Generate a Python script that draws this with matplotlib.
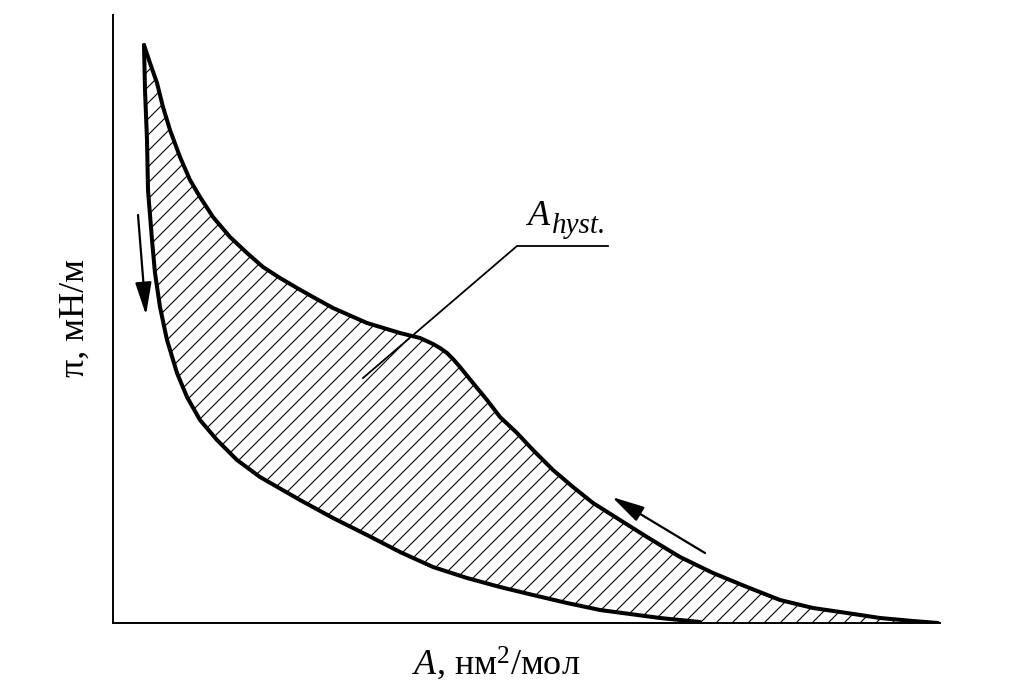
import matplotlib
matplotlib.use("Agg")
import matplotlib.pyplot as plt
from matplotlib.patches import Polygon
import numpy as np

plt.rcParams['font.family'] = ['Liberation Serif', 'DejaVu Serif']
plt.rcParams['mathtext.fontset'] = 'custom'
plt.rcParams['mathtext.rm'] = 'Liberation Serif'
plt.rcParams['mathtext.it'] = 'Liberation Serif:italic'

# Compression (upper) branch: area vs surface pressure (arbitrary units)
upper_x = [31, 37, 44, 50, 57, 67, 77, 87, 100, 117, 134, 150, 167, 184, 200, 220, 254, 287,
           307, 320, 327, 334, 340, 347, 360, 374, 387, 404, 420, 440, 460, 480, 507, 534, 567, 600,
           634, 667, 700, 734, 767, 800, 825]
upper_y = [578, 560, 540, 516, 493, 466, 443, 426, 406, 386, 370, 356, 345, 335, 326, 315, 300, 290,
           285, 279, 275, 270, 264, 256, 240, 223, 206, 190, 173, 153, 136, 120, 103, 86, 66, 50,
           36, 23, 15, 10, 5, 2, 0]
# Expansion (lower) branch
lower_x = [31, 32, 34, 35, 39, 42, 47, 54, 64, 74, 87, 104, 124, 147, 187, 220, 254, 287,
           320, 354, 387, 420, 454, 487, 517, 547, 587]
lower_y = [578, 533, 483, 433, 383, 350, 316, 283, 250, 226, 203, 183, 163, 146, 123, 105, 88, 71,
           56, 45, 36, 28, 20, 13, 9, 5, 1]

xlim = (0, 827)
ylim = (0, 608)
hatch_step = 16.0

fig = plt.figure(figsize=(10.10, 6.81), dpi=100)
ax = fig.add_axes([113/1010, (681-623)/681, (940-113)/1010, (623-15)/681])
ax.set_xlim(*xlim)
ax.set_ylim(*ylim)
ax.set_xticks([])
ax.set_yticks([])
for s in ['top', 'right']:
    ax.spines[s].set_visible(False)
for s in ['left', 'bottom']:
    ax.spines[s].set_linewidth(1.4)

# hysteresis area polygon with diagonal hatching
poly_x = upper_x + [lower_x[-1]] + lower_x[::-1]
poly_y = upper_y + [0] + lower_y[::-1]
area = Polygon(np.column_stack([poly_x, poly_y]), closed=True, facecolor='white',
               edgecolor='none', linewidth=0)
ax.add_patch(area)
for c in np.arange(-xlim[1], ylim[1], hatch_step):
    hl, = ax.plot([xlim[0], xlim[1]], [xlim[0] + c, xlim[1] + c], color='black', lw=0.8)
    hl.set_clip_path(area)

ax.plot(upper_x, upper_y, color='black', lw=2.9, solid_capstyle='round', solid_joinstyle='round')
ax.plot(lower_x, lower_y, color='black', lw=2.9, solid_capstyle='round', solid_joinstyle='round')

# direction arrows
arrow_kw = dict(arrowstyle='-|>,head_length=1.0,head_width=0.25', color='black', lw=1.6,
                mutation_scale=20, shrinkA=0, shrinkB=0)
ax.annotate('', xy=(33, 308), xytext=(25, 408), arrowprops=arrow_kw)
ax.annotate('', xy=(499, 126), xytext=(592, 70), arrowprops=arrow_kw)

# leader line and label
leader_x = [250, 404, 495]
leader_y = [245, 377, 377]
ax.plot(leader_x, leader_y, color='black', lw=1.3)
ax.text(415, 398, 'A', fontsize=26, style='italic', ha='left', va='baseline')
ax.text(439, 390, 'hyst.', fontsize=21, style='italic', ha='left', va='baseline')

fig.text(412/1010, 1-675/681, r'$A$, нм$^{2}$/мол', fontsize=26, ha='left', va='baseline')
fig.text(75/1010, 1-318/681, 'π, мН/м', fontsize=26, rotation=90, ha='center', va='center')

fig.savefig('out.png', dpi=100)
